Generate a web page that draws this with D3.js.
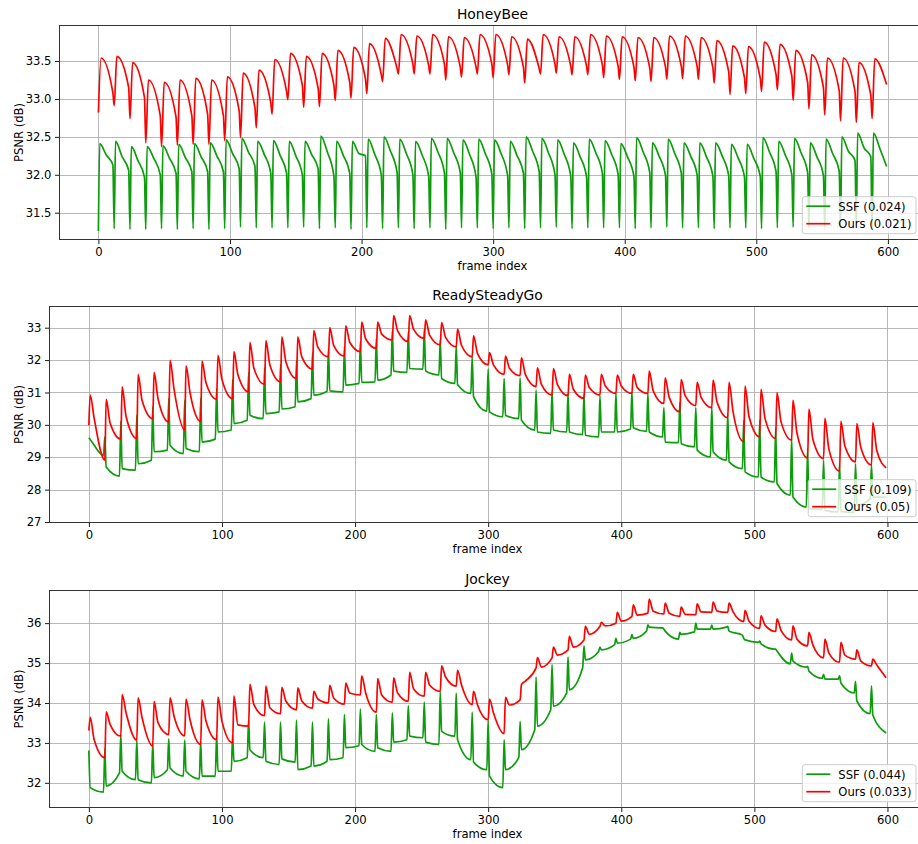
<!DOCTYPE html>
<html>
<head>
<meta charset="utf-8">
<script src="https://cdn.jsdelivr.net/npm/d3@7"></script>
<style>
  body { margin: 0; background: #fff; }
  svg { display: block; font-family: "DejaVu Sans", sans-serif; }
</style>
</head>
<body>
<svg id="chart" width="918" height="844"></svg>
<script>
// frames come in GOPs of 12, values below are read per GOP from the plot
const GOP = 12;
const LAST_FRAME = 599;
const xTicks = [0, 100, 200, 300, 400, 500, 600];

// ---- HoneyBee ----
const hbTicks = [31.5, 32.0, 32.5, 33.0, 33.5];
// SSF: dip at 12k, peak at 12k+1, mid at 12k+6, pre-dip at 12k+11
const hbSsfDip = [31.26,31.29,31.28,31.28,31.29,31.28,31.29,31.28,31.29,31.31,
                  31.30,31.30,31.30,31.31,31.29,31.30,31.28,31.30,31.29,31.30,
                  31.29,31.30,31.28,31.30,31.30,31.29,31.30,31.29,31.30,31.31,
                  31.29,31.30,31.30,31.30,31.29,31.30,31.31,31.30,31.30,31.29,
                  31.30,31.30,31.29,31.30,31.31,31.30,31.30,31.29,31.31,31.30];
const hbSsfPeak = [32.41,32.44,32.37,32.37,32.38,32.40,32.41,32.42,32.46,32.48,
                   32.44,32.45,32.44,32.44,32.51,32.44,32.44,32.47,32.50,32.47,
                   32.44,32.48,32.48,32.46,32.47,32.46,32.44,32.50,32.48,32.46,
                   32.42,32.47,32.45,32.41,32.49,32.42,32.47,32.42,32.42,32.42,
                   32.40,32.40,32.49,32.44,32.48,32.42,32.47,32.50,32.55,32.55];
const hbSsfMid = [32.26,32.24,32.19,32.22,32.22,32.23,32.24,32.25,32.28,32.30,
                  32.27,32.26,32.25,32.27,32.30,32.26,32.28,32.27,32.31,32.28,
                  32.26,32.30,32.29,32.27,32.28,32.28,32.26,32.31,32.29,32.27,
                  32.24,32.29,32.27,32.24,32.30,32.25,32.28,32.25,32.24,32.25,
                  32.23,32.22,32.30,32.26,32.29,32.24,32.28,32.31,32.35,32.34];
const hbSsfPre = [32.13,32.06,31.97,32.00,32.02,32.04,32.04,32.04,32.08,32.11,
                  32.02,32.02,32.00,32.08,31.98,32.02,32.25,32.00,32.03,32.00,
                  31.98,32.02,32.03,31.97,32.01,31.99,32.02,32.04,32.00,31.98,
                  31.97,32.02,32.00,31.98,32.03,31.99,32.02,32.00,31.98,31.99,
                  31.97,31.98,32.04,32.00,32.03,31.99,32.05,32.19,32.24,32.11];
// Ours: dip at 12k, peak at 12k+2, pre-dip at 12k+11
const hbOursDip = [32.82,32.91,32.74,32.42,32.37,32.39,32.40,32.40,32.45,32.49,
                   32.62,32.80,32.99,32.89,32.90,32.98,33.01,33.07,33.23,33.33,
                   33.33,33.33,33.25,33.29,33.33,33.28,33.32,33.21,33.33,33.34,
                   33.32,33.32,33.28,33.26,33.24,33.23,33.26,33.27,33.26,33.21,
                   33.06,33.07,33.10,33.12,32.98,32.87,32.79,32.71,32.69,32.74];
const hbOursPeak = [33.54,33.56,33.48,33.25,33.22,33.25,33.27,33.25,33.29,33.34,
                    33.38,33.52,33.60,33.56,33.60,33.64,33.68,33.73,33.80,33.85,
                    33.83,33.85,33.82,33.81,33.85,33.85,33.82,33.79,33.85,33.82,
                    33.82,33.85,33.83,33.82,33.81,33.81,33.83,33.83,33.81,33.77,
                    33.70,33.69,33.75,33.72,33.64,33.58,33.54,33.54,33.48,33.53];
const hbOursPre = [33.08,33.15,33.02,32.78,32.76,32.78,32.80,32.78,32.84,32.88,
                   32.95,33.10,33.18,33.14,33.18,33.22,33.26,33.32,33.40,33.46,
                   33.44,33.46,33.42,33.42,33.46,33.45,33.42,33.40,33.46,33.43,
                   33.43,33.45,33.43,33.42,33.41,33.42,33.43,33.43,33.41,33.36,
                   33.28,33.27,33.32,33.30,33.22,33.15,33.11,33.10,33.05,33.19];

// ---- ReadySteadyGo ----
const rsgTicks = [27, 28, 29, 30, 31, 32, 33];
// SSF: spike at 12k, base right after at 12k+1, base at 12k+11
const rsgSsfSpike = [29.60,29.63,30.11,30.30,30.56,30.82,30.76,30.82,31.13,31.40,
                     31.62,31.76,31.86,31.97,32.22,32.34,32.41,32.57,32.67,32.90,
                     32.86,32.96,32.62,32.44,32.10,31.72,31.43,31.45,31.07,31.04,
                     30.97,30.94,30.89,30.97,31.02,30.97,30.53,30.69,30.53,30.56,
                     30.35,30.14,30.14,29.91,29.60,29.27,28.91,28.80,28.80,28.75];
const rsgSsfAfter = [29.55,28.70,28.65,28.80,29.17,29.37,29.27,29.47,29.78,30.04,
                     30.30,30.35,30.49,30.71,30.92,31.05,31.23,31.31,31.38,31.66,
                     31.74,31.66,31.43,31.25,30.87,30.40,30.30,30.14,29.78,29.84,
                     29.78,29.68,29.78,29.78,29.91,29.78,29.47,29.42,29.22,29.17,
                     28.86,28.55,28.39,28.19,27.77,27.41,27.36,27.32,27.52,27.77];
const rsgSsfEnd = [29.06,28.42,28.60,28.91,29.22,29.11,29.17,29.56,29.84,30.14,
                   30.19,30.40,30.56,30.81,31.04,31.02,31.28,31.33,31.54,31.62,
                   31.72,31.54,31.28,30.97,30.42,30.25,30.19,29.84,29.74,29.78,
                   29.70,29.63,29.78,29.87,29.80,29.63,29.45,29.32,29.01,28.91,
                   28.65,28.39,28.24,27.83,27.46,27.39,27.31,27.30,27.72,27.77];
// Ours: base at 12k, peak at 12k+1, decay point at 12k+4
const rsgOursBase = [29.99,28.91,29.56,29.58,30.19,30.09,29.84,30.11,30.79,30.81,
                     31.02,31.25,31.33,31.43,31.72,32.10,32.12,32.26,32.36,32.62,
                     32.57,32.67,32.47,32.41,32.10,31.85,31.56,31.52,31.18,30.92,
                     30.90,30.82,30.92,30.97,30.97,30.97,30.66,30.40,30.59,30.53,
                     30.22,29.48,29.63,29.58,29.53,28.98,28.96,28.57,28.86,28.76];
const rsgOursPeak = [30.92,30.79,31.17,31.56,31.62,31.99,31.82,31.97,32.15,32.26,
                     32.55,32.60,32.72,32.72,32.91,33.00,33.06,33.17,33.17,33.37,
                     33.37,33.24,33.16,32.96,32.75,32.23,32.12,32.07,31.76,31.74,
                     31.56,31.54,31.56,31.54,31.56,31.66,31.45,31.40,31.31,31.38,
                     31.31,31.20,31.10,31.00,30.76,30.49,30.20,30.11,30.04,30.07];
const rsgOursMid = [30.20,30.05,30.25,30.75,30.80,31.10,31.00,31.30,31.40,31.55,
                    31.75,31.85,31.95,32.10,32.40,32.45,32.55,32.65,32.80,32.90,
                    32.95,32.77,32.70,32.45,32.20,31.85,31.75,31.55,31.25,31.25,
                    31.10,31.15,31.20,31.20,31.15,31.05,30.85,30.90,30.85,30.70,
                    30.40,30.25,30.20,30.10,29.75,29.55,29.25,29.35,29.30,29.20];
const rsgOursLast = 28.67;

// ---- Jockey ----
const jkTicks = [32, 33, 34, 35, 36];
const jkSsfSpike = [32.81,32.85,33.21,33.07,33.00,33.10,33.07,33.04,33.21,33.21,
                    33.58,33.52,33.52,33.57,33.52,33.60,33.71,33.85,33.71,33.75,
                    33.93,34.02,34.27,34.25,33.77,33.57,33.08,33.54,34.65,34.96,
                    35.15,35.43,35.40,35.62,35.71,35.96,35.85,35.77,36.00,35.95,
                    35.92,35.62,35.55,35.35,35.25,34.92,34.72,34.68,34.54,34.43];
const jkSsfAfter = [31.88,31.92,32.29,32.08,32.13,32.37,32.29,32.17,32.29,32.54,
                    32.83,32.54,32.60,32.33,32.42,32.58,32.88,32.96,32.88,33.02,
                    33.17,33.02,33.29,33.08,32.52,32.17,32.33,32.83,33.42,33.92,
                    34.33,35.08,35.33,35.50,35.62,35.90,35.80,35.72,35.85,35.85,
                    35.80,35.58,35.48,35.30,35.05,34.80,34.60,34.50,34.05,33.70];
const jkSsfEnd = [31.77,32.25,32.08,32.00,32.33,32.17,32.10,32.17,32.29,32.63,
                  32.63,32.46,32.52,32.42,32.54,32.63,32.93,32.79,32.79,33.08,
                  33.13,32.96,33.17,32.58,32.33,31.88,32.63,33.33,33.83,34.25,
                  34.88,35.29,35.46,35.60,35.80,35.88,35.60,35.78,35.85,35.90,
                  35.70,35.52,35.35,34.98,34.90,34.62,34.60,34.25,33.73,33.25];
const jkOursBase = [33.31,32.63,33.17,33.07,32.92,33.21,33.18,32.96,33.08,33.00,
                    33.42,33.68,33.73,33.83,33.87,34.00,33.97,34.20,33.77,34.02,
                    34.04,34.17,34.29,34.42,33.96,33.58,33.23,34.08,34.88,35.13,
                    35.33,35.58,35.92,36.00,36.17,36.25,36.23,36.17,36.21,36.27,
                    36.27,36.04,35.87,35.79,35.58,35.43,35.13,35.02,35.10,34.93];
const jkOursPeak = [33.64,33.78,34.21,34.13,34.04,34.13,34.10,34.08,34.15,34.18,
                    34.47,34.42,34.39,34.38,34.29,34.44,34.50,34.68,34.61,34.63,
                    34.77,34.77,34.93,34.82,34.29,34.10,34.14,34.46,35.14,35.40,
                    35.67,35.92,36.02,36.27,36.46,36.60,36.50,36.40,36.48,36.53,
                    36.50,36.32,36.18,36.11,35.93,35.77,35.60,35.52,35.33,35.10];
const jkOursMid = [33.08,33.46,33.75,33.63,33.50,33.67,33.58,33.55,33.54,33.45,
                   33.96,33.88,34.05,34.05,34.10,34.12,34.25,34.25,34.20,34.25,
                   34.35,34.45,34.65,34.45,33.95,33.75,33.95,34.55,34.90,35.20,
                   35.40,35.72,35.93,36.05,36.20,36.30,36.25,36.22,36.28,36.30,
                   36.28,36.05,35.95,35.82,35.60,35.45,35.25,35.20,35.05,34.95];
const jkOursLast = 34.63;

// turn per-GOP columns into [frame, value] points
function gopSeries(offsets, cols, lastValue) {
  const pts = [];
  for (let k = 0; k < cols[0].length; k++) {
    offsets.forEach((o, j) => pts.push([k * GOP + o, cols[j][k]]));
  }
  if (lastValue !== undefined) pts.push([LAST_FRAME, lastValue]);
  return pts;
}

const green = '#0c9c0c', red = '#ff0000';

const panels = [
  { title: 'HoneyBee', left: 59, top: 25, bottom: 240, yDomain: [31.14, 33.975],
    yTicks: hbTicks, fmt: d3.format('.1f'),
    series: [
      { name: 'SSF (0.024)', color: green, pts: gopSeries([0, 1, 6, 11], [hbSsfDip, hbSsfPeak, hbSsfMid, hbSsfPre]) },
      { name: 'Ours (0.021)', color: red, pts: gopSeries([0, 2, 11], [hbOursDip, hbOursPeak, hbOursPre]) }
    ] },
  { title: 'ReadySteadyGo', left: 49, top: 306, bottom: 523, yDomain: [26.97, 33.67],
    yTicks: rsgTicks, fmt: d3.format('d'),
    series: [
      { name: 'SSF (0.109)', color: green, pts: gopSeries([0, 1, 11], [rsgSsfSpike, rsgSsfAfter, rsgSsfEnd]) },
      { name: 'Ours (0.05)', color: red, pts: gopSeries([0, 1, 4], [rsgOursBase, rsgOursPeak, rsgOursMid], rsgOursLast) }
    ] },
  { title: 'Jockey', left: 49, top: 590, bottom: 808, yDomain: [31.37, 36.83],
    yTicks: jkTicks, fmt: d3.format('d'),
    series: [
      { name: 'SSF (0.044)', color: green, pts: gopSeries([0, 1, 11], [jkSsfSpike, jkSsfAfter, jkSsfEnd]) },
      { name: 'Ours (0.033)', color: red, pts: gopSeries([0, 1, 4], [jkOursBase, jkOursPeak, jkOursMid], jkOursLast) }
    ] }
];

const svg = d3.select('#chart');
const xRight = 926;
const xDomain = [-29.95, 628.95];
const fs = 11.6;

panels.forEach((p, i) => {
  const x = d3.scaleLinear().domain(xDomain).range([p.left, xRight]);
  const y = d3.scaleLinear().domain(p.yDomain).range([p.bottom, p.top]);
  const g = svg.append('g');

  g.append('clipPath').attr('id', 'clip' + i)
    .append('rect')
      .attr('x', p.left).attr('y', p.top)
      .attr('width', xRight - p.left).attr('height', p.bottom - p.top);

  // grid
  g.append('g').selectAll('line').data(xTicks).join('line')
      .attr('x1', d => Math.round(x(d)) + 0.5).attr('x2', d => Math.round(x(d)) + 0.5)
      .attr('y1', p.top).attr('y2', p.bottom)
      .attr('stroke', '#b0b0b0').attr('stroke-width', 0.9);
  g.append('g').selectAll('line').data(p.yTicks).join('line')
      .attr('y1', d => Math.round(y(d)) + 0.5).attr('y2', d => Math.round(y(d)) + 0.5)
      .attr('x1', p.left).attr('x2', xRight)
      .attr('stroke', '#b0b0b0').attr('stroke-width', 0.9);

  // lines
  const line = d3.line()
      .x(d => x(d[0]))
      .y(d => y(d[1]))
      .curve(d3.curveMonotoneX);

  g.append('g').attr('clip-path', `url(#clip${i})`)
    .selectAll('path').data(p.series).join('path')
      .attr('fill', 'none')
      .attr('stroke', d => d.color)
      .attr('stroke-width', 1.7)
      .attr('stroke-linejoin', 'round')
      .attr('d', d => line(d.pts));

  // axes
  const xAxis = g.append('g')
      .attr('transform', `translate(0,${p.bottom})`)
      .call(d3.axisBottom(x).tickValues(xTicks).tickSize(4).tickPadding(3.5));
  const yAxis = g.append('g')
      .attr('transform', `translate(${p.left},0)`)
      .call(d3.axisLeft(y).tickValues(p.yTicks).tickFormat(p.fmt).tickSize(4).tickPadding(3.5));
  [xAxis, yAxis].forEach(a => {
    a.select('.domain').remove();
    a.selectAll('text').attr('font-size', fs).attr('font-family', 'DejaVu Sans').attr('fill', '#000');
    a.selectAll('line').attr('stroke', '#000').attr('stroke-width', 0.9);
  });

  // spines
  g.append('rect')
      .attr('x', p.left + 0.5).attr('y', Math.round(p.top) + 0.5)
      .attr('width', xRight - p.left).attr('height', p.bottom - p.top - 1)
      .attr('fill', 'none').attr('stroke', '#333').attr('stroke-width', 1);

  // labels
  const cx = (p.left + xRight) / 2;
  g.append('text')
      .attr('x', cx).attr('y', p.top - 6.5)
      .attr('text-anchor', 'middle').attr('font-size', 13.9)
      .text(p.title);
  g.append('text')
      .attr('x', cx).attr('y', p.bottom + 30)
      .attr('text-anchor', 'middle').attr('font-size', fs)
      .text('frame index');
  g.append('text')
      .attr('transform', `translate(22.5,${(p.top + p.bottom) / 2}) rotate(-90)`)
      .attr('text-anchor', 'middle').attr('font-size', fs)
      .text('PSNR (dB)');

  // legend, lower right
  const lg = g.append('g');
  const box = lg.append('rect');
  const labels = lg.selectAll('text.lab').data(p.series).join('text')
      .attr('class', 'lab')
      .attr('font-size', fs)
      .text(d => d.name);
  const maxW = d3.max(labels.nodes(), n => n.getComputedTextLength());
  const bw = 36 + maxW + 4.5, bh = 37;
  const bx = 916 - bw, by = p.bottom - 6.3 - bh;
  box.attr('x', bx).attr('y', by).attr('width', bw).attr('height', bh)
      .attr('rx', 2.5)
      .attr('fill', '#fff').attr('fill-opacity', 0.8)
      .attr('stroke', '#cccccc').attr('stroke-width', 1);
  lg.selectAll('line').data(p.series).join('line')
      .attr('x1', bx + 4).attr('x2', bx + 28)
      .attr('y1', (d, j) => by + 9.5 + j * 17.5).attr('y2', (d, j) => by + 9.5 + j * 17.5)
      .attr('stroke', d => d.color).attr('stroke-width', 1.7);
  labels.attr('x', bx + 36).attr('y', (d, j) => by + 13.8 + j * 17.5);
});
</script>
</body>
</html>
